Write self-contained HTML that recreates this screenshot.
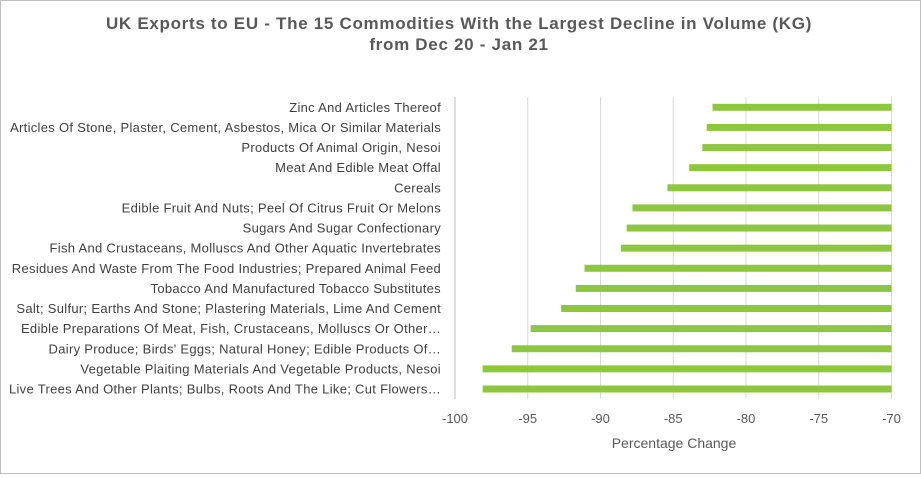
<!DOCTYPE html>
<html><head><meta charset="utf-8"><style>
body{margin:0;background:#fff;}
#wrap{position:relative;width:919px;height:472px;border:1px solid #bfbfbf;background:#fff;font-family:"Liberation Sans",sans-serif;}
</style></head><body>
<div id="wrap">
<svg id="chart" width="919" height="472"></svg>
</div>
<script>
const categories=["Zinc And Articles Thereof","Articles Of Stone, Plaster, Cement, Asbestos, Mica Or Similar Materials","Products Of Animal Origin, Nesoi","Meat And Edible Meat Offal","Cereals","Edible Fruit And Nuts; Peel Of Citrus Fruit Or Melons","Sugars And Sugar Confectionary","Fish And Crustaceans, Molluscs And Other Aquatic Invertebrates","Residues And Waste From The Food Industries; Prepared Animal Feed","Tobacco And Manufactured Tobacco Substitutes","Salt; Sulfur; Earths And Stone; Plastering Materials, Lime And Cement","Edible Preparations Of Meat, Fish, Crustaceans, Molluscs Or Other…","Dairy Produce; Birds' Eggs; Natural Honey; Edible Products Of…","Vegetable Plaiting Materials And Vegetable Products, Nesoi","Live Trees And Other Plants; Bulbs, Roots And The Like; Cut Flowers…"];
const values=[-82.3,-82.7,-83.0,-83.9,-85.4,-87.8,-88.2,-88.6,-91.1,-91.7,-92.7,-94.8,-96.1,-98.1,-98.1];
const ticks=[-100,-95,-90,-85,-80,-75,-70];
const NS="http://www.w3.org/2000/svg";
const svg=document.getElementById('chart');
const ox=-1,oy=-1;
const x0=455+ox,x1=891.5+ox,plotTop=97+oy,plotBot=399+oy;
const xs=v=>x0+(v-(-100))/30*(x1-x0);
const rowH=(389-107.3)/14;
const ys=i=>107.3+oy+i*rowH;
function el(t,a,txt){const e=document.createElementNS(NS,t);for(const k in a)e.setAttribute(k,a[k]);if(txt!=null)e.textContent=txt;svg.appendChild(e);return e;}
let t=el('text',{x:459+ox,y:29+oy,'text-anchor':'middle','font-size':'17','font-weight':'bold','letter-spacing':'0.7',fill:'#595959'},'UK Exports to EU - The 15 Commodities With the Largest Decline in Volume (KG)');


t=el('text',{x:459+ox,y:50+oy,'text-anchor':'middle','font-size':'17','font-weight':'bold','letter-spacing':'0.7',fill:'#595959'},'from Dec 20 - Jan 21');


ticks.forEach(v=>{
  if(v>-100){const g=el('line',{x1:xs(v),x2:xs(v),y1:plotTop,y2:plotBot,stroke:'#d9d9d9','stroke-width':1});
  
  }
  const l=el('text',{x:xs(v),y:423+oy,'text-anchor':'middle','font-size':'13',fill:'#595959'},String(v));
  
  
});
const ax=el('line',{x1:x0,x2:x0,y1:plotTop,y2:plotBot,stroke:'#bfbfbf','stroke-width':1});


categories.forEach((c,i)=>{
  const y=ys(i);
  const l=el('text',{x:441+ox,y:y+4.5,'text-anchor':'end','font-size':'13','letter-spacing':'0.3',fill:'#404040'},c);
  
  
  const b=el('rect',{x:xs(values[i]),y:y-3.5,width:xs(-70)-xs(values[i]),height:7,fill:'#8dc63f'});
  
  
});
t=el('text',{x:674+ox,y:448+oy,'text-anchor':'middle','font-size':'14',fill:'#595959'},'Percentage Change');


</script>
</body></html>
